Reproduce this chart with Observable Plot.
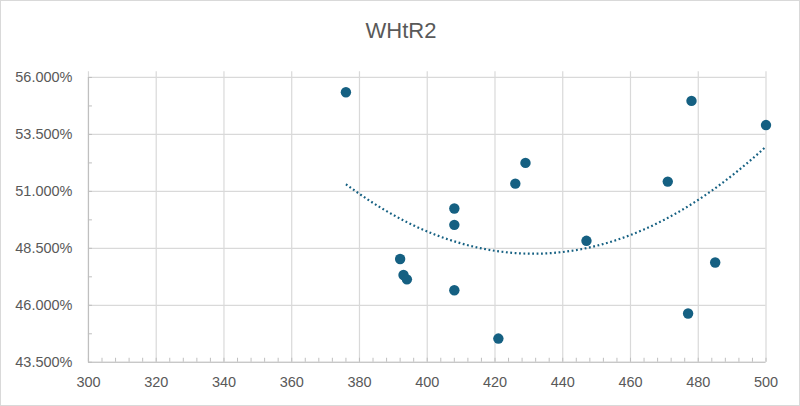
<!DOCTYPE html>
<html>
<head>
<meta charset="utf-8">
<script src="https://cdn.jsdelivr.net/npm/d3@7"></script>
<script src="https://cdn.jsdelivr.net/npm/@observablehq/plot@0.6"></script>
<style>
  html, body { margin: 0; padding: 0; background: #fff; }
  #wrap { position: relative; width: 800px; height: 406px; box-sizing: border-box; border: 1.5px solid #d9d9d9; overflow: hidden; background:#fff; }
  #title { position: absolute; top: 19px; left: 0; width: 800px; text-align: center; font-family: "Liberation Sans", Arial, sans-serif; font-size: 22px; line-height: 22px; color: #595959; }
  #chart { position: absolute; left: -1.5px; top: -1.5px; }
</style>
</head>
<body>
<div id="wrap"><div id="title">WHtR2</div><div id="chart"></div></div>
<script>
const xValues = [376, 392, 393, 394, 408, 408, 408, 421, 426, 429, 447, 471, 478, 477, 485, 500];
const yValues = [55.35, 48.03, 47.33, 47.14, 50.25, 49.53, 46.66, 44.54, 51.34, 52.25, 48.83, 51.43, 54.97, 45.64, 47.88, 53.91];
const xTicks = [300, 320, 340, 360, 380, 400, 420, 440, 460, 480, 500];
const yTicks = [43.5, 46, 48.5, 51, 53.5, 56];
const xMinorTicks = d3.range(300, 500.01, 4);
const yMinorTicks = d3.range(43.5, 56.01, 1.25);

const points = xValues.map((x, i) => ({x, y: yValues[i]}));

// Second-order polynomial least-squares trend (as in the original's trendline)
function quadFit(xs, ys) {
  const m = d3.mean(xs);
  const S = Array.from({length: 5}, (_, k) => d3.sum(xs, x => (x - m) ** k));
  const T = Array.from({length: 3}, (_, k) => d3.sum(xs, (x, i) => ys[i] * (x - m) ** k));
  const A = [[S[0], S[1], S[2], T[0]], [S[1], S[2], S[3], T[1]], [S[2], S[3], S[4], T[2]]];
  for (let i = 0; i < 3; i++) {
    for (let j = i + 1; j < 3; j++) {
      const f = A[j][i] / A[i][i];
      for (let k = i; k < 4; k++) A[j][k] -= f * A[i][k];
    }
  }
  const c = [0, 0, 0];
  for (let i = 2; i >= 0; i--) {
    let s = A[i][3];
    for (let k = i + 1; k < 3; k++) s -= A[i][k] * c[k];
    c[i] = s / A[i][i];
  }
  return x => c[0] + c[1] * (x - m) + c[2] * (x - m) ** 2;
}
const fit = quadFit(xValues, yValues);
const xMin = d3.min(xValues), xMax = d3.max(xValues);
const trend = d3.range(xMin, xMax + 0.001, 2).map(x => ({x, y: fit(x)}));

const grid = "#d9d9d9";
const axisCol = "#bfbfbf";
const textCol = "#595959";
const dotCol = "#156082";
const font = "'Liberation Sans', Arial, sans-serif";

const plot = Plot.plot({
  width: 800,
  height: 406,
  marginLeft: 88,
  marginRight: 34,
  marginTop: 77,
  marginBottom: 44,
  style: { fontFamily: font, fontSize: "14.5px", color: textCol, background: "transparent" },
  x: { type: "linear", domain: [300, 500] },
  y: { type: "linear", domain: [43.5, 56] },
  marks: [
    Plot.ruleY(yTicks, { stroke: grid, strokeWidth: 1.2 }),
    Plot.ruleX(xTicks, { y1: 43.5, y2: 56.25, stroke: grid, strokeWidth: 1.2 }),
    Plot.ruleY([43.5], { stroke: axisCol, strokeWidth: 1.2 }),
    Plot.ruleX([300], { y1: 43.5, y2: 56, stroke: axisCol, strokeWidth: 1.2 }),
    Plot.axisX({ ticks: xMinorTicks, tickSize: -4, tickFormat: () => "", stroke: axisCol, strokeWidth: 1, label: null }),
    Plot.axisY({ ticks: yMinorTicks, tickSize: -4, tickFormat: () => "", stroke: axisCol, strokeWidth: 1, label: null }),
    Plot.axisX({ ticks: xTicks, tickSize: 0, tickPadding: 14, label: null, fill: textCol, fontSize: 14.5 }),
    Plot.axisY({ ticks: yTicks, tickSize: 0, tickPadding: 16, label: null, fill: textCol, fontSize: 14.5, tickFormat: d => d.toFixed(3) + "%" }),
    Plot.line(trend, { x: "x", y: "y", stroke: dotCol, strokeWidth: 2.2, strokeDasharray: "1.8 2.6", strokeLinecap: "butt", curve: "natural" }),
    Plot.dot(points, { x: "x", y: "y", r: 5.2, fill: dotCol, stroke: "none" })
  ]
});
document.getElementById("chart").appendChild(plot);
</script>
</body>
</html>
